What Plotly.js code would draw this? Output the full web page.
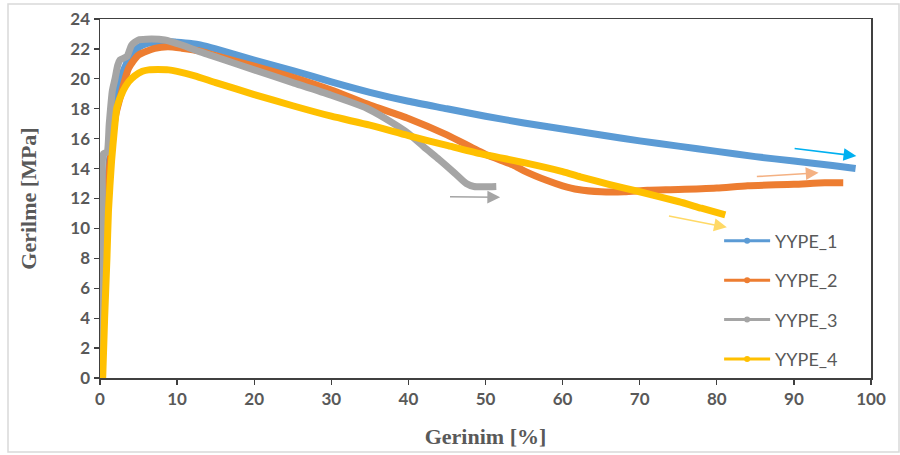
<!DOCTYPE html>
<html>
<head>
<meta charset="utf-8">
<script src="https://cdn.plot.ly/plotly-3.0.1.min.js"></script>
<style>html,body{margin:0;padding:0;background:#fff;}#chart{width:900px;height:455px;}</style>
</head>
<body>
<div id="chart"></div>
<script>
// Series names
const seriesNames = ["YYPE_1", "YYPE_2", "YYPE_3", "YYPE_4"];

// YYPE_1 (strain %, stress MPa)
const x1 = [0, 0.3, 0.6, 1.0, 1.5, 2.0, 2.5, 3.0, 4.0, 5.0, 6.0, 7.0, 8.0, 9.0, 10, 12, 13, 15, 20, 25, 30, 35, 40, 45, 50, 55, 60, 65, 70, 75, 80, 85, 90, 95, 98];
const y1 = [0, 5, 9, 13, 16, 18, 19.5, 20.5, 21.6, 22.1, 22.35, 22.45, 22.5, 22.5, 22.45, 22.35, 22.26, 22.0, 21.25, 20.55, 19.8, 19.1, 18.5, 18.0, 17.5, 17.05, 16.65, 16.25, 15.85, 15.5, 15.15, 14.8, 14.5, 14.2, 14.0];

// YYPE_2
const x2 = [0, 0.3, 0.6, 1.0, 1.5, 2.0, 2.8, 3.7, 5.0, 7.1, 8.8, 10.6, 13, 15, 20, 25, 30, 35, 40, 45, 50, 53.6, 55, 58, 60, 62, 65, 68, 71, 75, 80, 84, 90, 94, 96.4];
const y2 = [0, 4.5, 8.5, 12.5, 15.5, 17.5, 19.1, 20.7, 21.6, 22.04, 22.15, 22.05, 21.85, 21.55, 20.85, 20.1, 19.25, 18.25, 17.35, 16.25, 14.95, 14.24, 13.85, 13.2, 12.85, 12.6, 12.45, 12.45, 12.55, 12.6, 12.7, 12.85, 12.95, 13.05, 13.05];

// YYPE_3
const x3 = [0, 0.15, 0.3, 0.45, 0.9, 1.2, 1.6, 1.95, 2.3, 2.6, 3.5, 4.1, 5.0, 6.0, 8.4, 10.6, 13, 14.5, 20, 25, 30, 34.6, 37, 40, 42, 44, 46, 47.5, 48.5, 51.4];
const y3 = [0, 6, 12, 15.0, 15.1, 17, 19.2, 20.0, 20.9, 21.26, 21.5, 22.26, 22.6, 22.65, 22.6, 22.26, 21.8, 21.55, 20.6, 19.75, 18.9, 18.03, 17.35, 16.35, 15.45, 14.6, 13.7, 13.0, 12.8, 12.8];

// YYPE_4
const x4 = [0.35, 0.6, 0.9, 1.1, 1.5, 1.9, 2.2, 3.0, 3.7, 4.5, 5.5, 6.3, 7.5, 8.9, 10, 12.3, 15, 20, 25, 30, 35, 40, 45, 49.3, 55, 60, 62.3, 66, 70, 75, 78, 81.1];
const y4 = [0, 4, 8, 11.2, 14.5, 16.8, 18.1, 19.2, 19.8, 20.2, 20.5, 20.6, 20.62, 20.6, 20.5, 20.2, 19.75, 18.95, 18.2, 17.5, 16.9, 16.2, 15.55, 15.0, 14.4, 13.8, 13.45, 12.95, 12.45, 11.8, 11.35, 10.9];

// Arrow annotations [x_tail, y_tail, x_head, y_head]
const arrowTails = [[89.9, 15.35], [85.0, 13.46], [45.2, 12.12], [73.6, 10.85]];
const arrowHeads = [[98.1, 14.84], [93.2, 13.72], [51.9, 12.08], [81.3, 10.07]];

const colors = ["#5B9BD5", "#ED7D31", "#A5A5A5", "#FFC000"];
const arrowColors = ["#00B0F0", "#F4B183", "#A5A5A5", "#FFD966"];
const xs = [x1, x2, x3, x4];
const ys = [y1, y2, y3, y4];

const traces = [];
for (let i = 0; i < 4; i++) {
  traces.push({
    x: xs[i], y: ys[i], type: "scatter", mode: "lines",
    line: {color: colors[i], width: 7, shape: "spline", smoothing: 0.6},
    showlegend: false, hoverinfo: "skip"
  });
}
for (let i = 0; i < 4; i++) {
  traces.push({
    x: [null], y: [null], type: "scatter", mode: "lines+markers",
    name: seriesNames[i], legendgroup: "g" + i,
    line: {color: colors[i], width: 3},
    marker: {color: colors[i], size: 6}
  });
}

const annotations = [];
for (let i = 0; i < 4; i++) {
  annotations.push({
    x: arrowHeads[i][0], y: arrowHeads[i][1], ax: arrowTails[i][0], ay: arrowTails[i][1],
    xref: "x", yref: "y", axref: "x", ayref: "y", text: "", showarrow: true,
    arrowhead: 2, arrowsize: 1.6, arrowwidth: 1.6, arrowcolor: arrowColors[i]
  });
}

const axisFont = {family: "Lato, 'Open Sans', sans-serif", size: 17, color: "#595959", weight: 700};
const titleFont = {family: "'Liberation Serif', 'Times New Roman', serif", size: 22, color: "#595959", weight: 700};

const layout = {
  width: 900, height: 455,
  margin: {l: 100, r: 29, t: 19, b: 77},
  paper_bgcolor: "#ffffff", plot_bgcolor: "#ffffff",
  showlegend: true,
  legend: {
    x: 0.803, y: 0.433, xanchor: "left", yanchor: "top",
    font: {family: "Lato, 'Open Sans', sans-serif", size: 18, color: "#595959"},
    tracegroupgap: 13, itemwidth: 46, bgcolor: "rgba(0,0,0,0)"
  },
  xaxis: {
    range: [0, 100], dtick: 10, tick0: 0, showgrid: false, zeroline: false,
    showline: true, linecolor: "#404040", linewidth: 1.5, mirror: true,
    ticks: "outside", ticklen: 5, tickcolor: "#404040", tickwidth: 1.3,
    tickfont: axisFont, automargin: false,
    title: {text: "Gerinim [%]", font: titleFont, standoff: 20}
  },
  yaxis: {
    range: [0, 24], dtick: 2, tick0: 0, showgrid: false, zeroline: false,
    showline: true, linecolor: "#404040", linewidth: 1.5, mirror: true,
    ticks: "outside", ticklen: 5, tickcolor: "#404040", tickwidth: 1.3,
    tickfont: axisFont, automargin: false,
    title: {text: "Gerilme [MPa]", font: titleFont, standoff: 27}
  },
  annotations: annotations,
  shapes: [{
    type: "rect", xref: "paper", yref: "paper",
    x0: (8 - 100) / 771, x1: (899 - 100) / 771,
    y0: (378 - 452) / 359, y1: (378 - 4) / 359,
    line: {color: "#d9d9d9", width: 1.5}, layer: "below"
  }]
};

Plotly.newPlot("chart", traces, layout, {staticPlot: true, displayModeBar: false});
</script>
</body>
</html>
